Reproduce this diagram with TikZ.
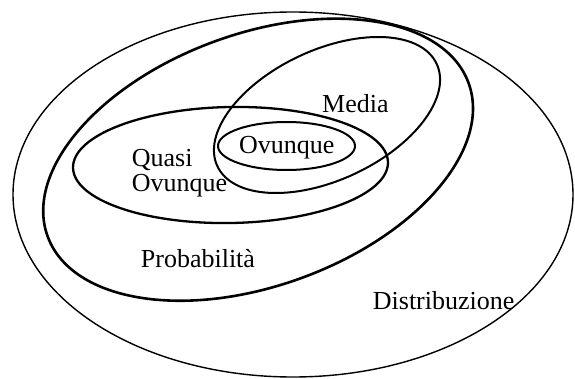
\documentclass[tikz,border=0pt]{standalone}
\usepackage{fontspec}
\setmainfont{Liberation Serif}
\begin{document}
\begin{tikzpicture}[x=1pt,y=1pt,
  lab/.style={anchor=base west,inner sep=0pt,font=\fontsize{26}{26}\selectfont},
  thin ring/.style={draw=black,line width=1.4pt},
  mid ring/.style={draw=black,line width=2pt},
  thick ring/.style={draw=black,line width=2.6pt}]
\useasboundingbox (0,0) rectangle (575,378);
% Distribuzione (outer)
\draw[thin ring] (293,183.5) ellipse [x radius=280, y radius=182.5];
% Probabilita
\draw[thick ring, rotate around={20:(258.1,218.3)}] (258.1,218.3) ellipse [x radius=224, y radius=126];
% Media
\draw[mid ring, rotate around={25:(327,263)}] (327,263) ellipse [x radius=121, y radius=65];
% Quasi ovunque
\draw[thick ring, line width=2.3pt, rotate around={1:(230.5,213)}] (230.5,213) ellipse [x radius=157.5, y radius=58];
% Ovunque
\draw[mid ring] (286.5,232) ellipse [x radius=68.5, y radius=24];
% labels
\node[lab] (media) at (322,265) {Media};
\node[lab] (ovunque) at (239,224) {Ovunque};
\node[lab] (quasi) at (131.7,211.3) {Quasi};
\node[lab] (quasiov) at (131.7,186.3) {Ovunque};
\node[lab] (prob) at (140.7,110.7) {Probabilità};
\node[lab] (distr) at (372.7,69) {Distribuzione};
\end{tikzpicture}
\end{document}
